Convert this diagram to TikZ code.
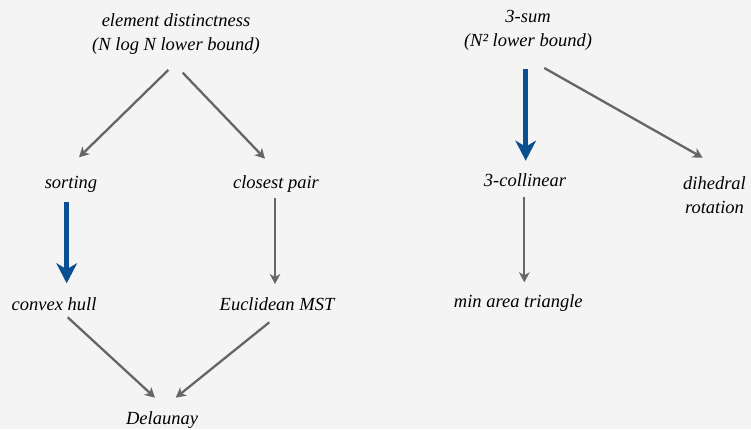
\documentclass[tikz,border=0pt]{standalone}
\usepackage{fontspec}
\setmainfont{Liberation Serif}[ItalicFont={Liberation Serif Italic}]
\newfontfamily\labelfont{Liberation Serif Italic}
\usetikzlibrary{arrows.meta}
\definecolor{bg}{HTML}{F4F4F4}
\definecolor{edgegray}{HTML}{666666}
\definecolor{edgeblue}{HTML}{0A4F92}
\begin{document}
\begin{tikzpicture}[x=1pt,y=-1pt,
  label/.style={inner sep=0pt, font=\fontsize{18.5}{24}\selectfont\labelfont,
    text height=12.5pt, text depth=4pt, align=center},
  stack/.style={inner sep=0pt, font=\fontsize{18.5}{24}\selectfont\labelfont, align=center},
  reduce/.style={draw=edgegray, line width=2.3pt,
    -{Stealth[length=10pt,width=10.5pt,inset=3pt]}},
  linear/.style={draw=edgeblue, line width=5pt,
    -{Stealth[length=20pt,width=20.5pt,inset=6pt]}}]
  % canvas
  \fill[bg] (0,0) rectangle (751,429);
  \useasboundingbox (0,0) rectangle (751,429);

  % problems reducing from element distinctness
  \node[stack] (ed) at (176,34.5) {element distinctness\\(N log N lower bound)};
  \node[label] (sort) at (71,184) {sorting};
  \node[label] (cp) at (276,184) {closest pair};
  \node[label] (hull) at (54,306) {convex hull};
  \node[label] (mst) at (277,306) {Euclidean MST};
  \node[label] (del) at (162,420) {Delaunay};

  % problems reducing from 3-sum
  \node[stack] (tsum) at (528,30) {3-sum\\(N² lower bound)};
  \node[label] (coll) at (525,182.5) {3-collinear};
  \node[stack] (dih) at (714.5,195) {dihedral\\rotation};
  \node[label] (tri) at (518.3,303) {min area triangle};

  % reductions
  \draw[reduce] ([xshift=-7.7pt,yshift=-35.5pt]ed.center) -- ([xshift=8pt,yshift=26.7pt]sort.center);
  \draw[reduce] ([xshift=6.7pt,yshift=-38.2pt]ed.center) -- ([xshift=-11pt,yshift=25.3pt]cp.center);
  \draw[linear] ([xshift=-4.3pt,yshift=-17.7pt]sort.center) -- ([xshift=-4.3pt,yshift=-99.3pt]sort.center);
  \draw[reduce] ([xshift=-1pt,yshift=-14.3pt]cp.center) -- ([xshift=-2pt,yshift=22pt]mst.center);
  \draw[reduce] ([xshift=13.7pt,yshift=-11.3pt]hull.center) -- ([xshift=-7pt,yshift=22.3pt]del.center);
  \draw[reduce] ([xshift=-7.7pt,yshift=-16.3pt]mst.center) -- ([xshift=13.7pt,yshift=22.3pt]del.center);

  \draw[linear] ([xshift=-2.3pt,yshift=-39pt]tsum.center) -- ([xshift=0.7pt,yshift=21.8pt]coll.center);
  \draw[reduce] ([xshift=16.3pt,yshift=-38pt]tsum.center) -- ([xshift=-11.8pt,yshift=37.3pt]dih.center);
  \draw[reduce] ([xshift=-0.7pt,yshift=-14.2pt]coll.center) -- ([xshift=6pt,yshift=20.7pt]tri.center);
\end{tikzpicture}
\end{document}
